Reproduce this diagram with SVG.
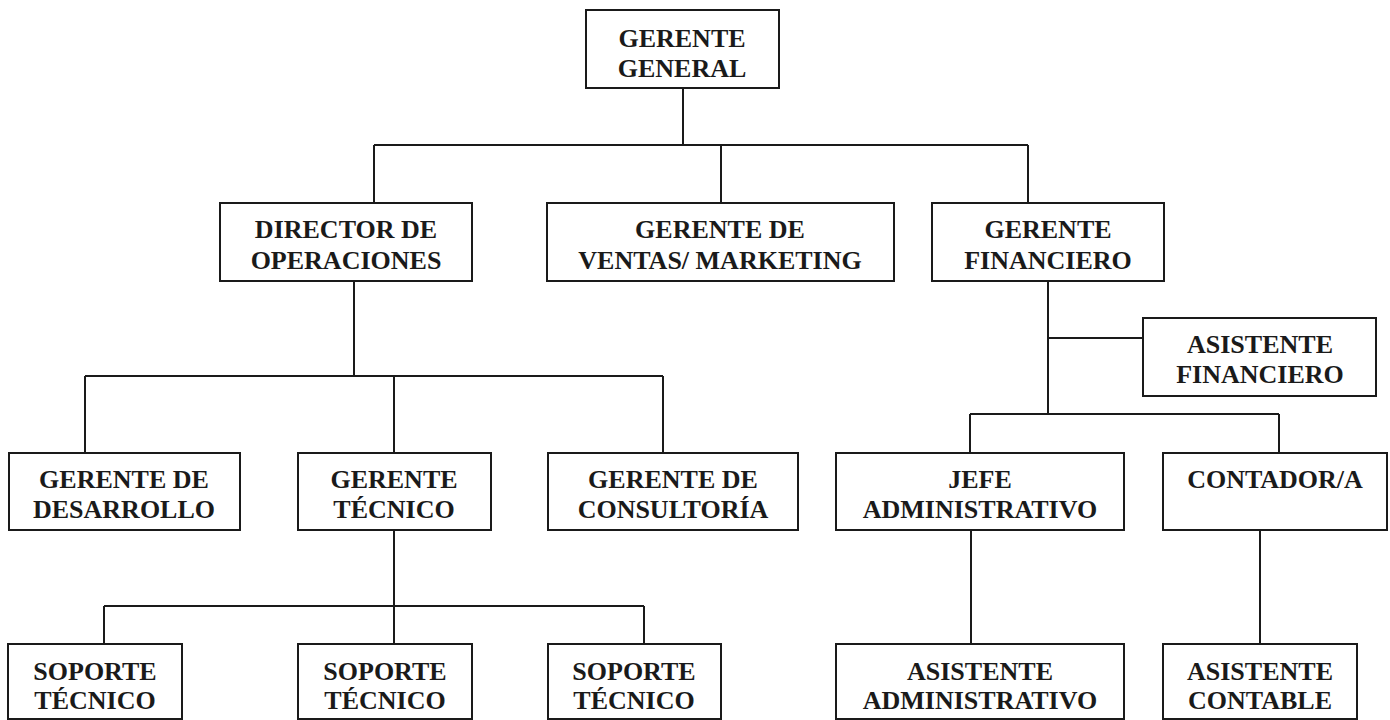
<svg xmlns="http://www.w3.org/2000/svg" width="1390" height="720" viewBox="0 0 1390 720">
<style>
rect.n{fill:#fff;stroke:#1a1a1a;stroke-width:2}
text{font-family:"Liberation Serif","Times New Roman",serif;font-weight:bold;font-size:26px;fill:#1a1a1a;text-anchor:middle}
.c line{stroke:#1a1a1a;stroke-width:2}
</style>
<rect width="1390" height="720" fill="#fff"/>
<g class="c" id="connectors">
<line x1="683" y1="88" x2="683" y2="145"/>
<line x1="374" y1="145" x2="1028" y2="145"/>
<line x1="374" y1="145" x2="374" y2="203"/>
<line x1="721" y1="145" x2="721" y2="203"/>
<line x1="1028" y1="145" x2="1028" y2="203"/>
<line x1="354" y1="281" x2="354" y2="376"/>
<line x1="85" y1="376" x2="663" y2="376"/>
<line x1="85" y1="376" x2="85" y2="453"/>
<line x1="394" y1="376" x2="394" y2="453"/>
<line x1="663" y1="376" x2="663" y2="453"/>
<line x1="394" y1="530" x2="394" y2="606"/>
<line x1="104" y1="606" x2="644" y2="606"/>
<line x1="104" y1="606" x2="104" y2="644"/>
<line x1="394" y1="606" x2="394" y2="644"/>
<line x1="644" y1="606" x2="644" y2="644"/>
<line x1="1048" y1="281" x2="1048" y2="414"/>
<line x1="1048" y1="338" x2="1143" y2="338"/>
<line x1="970" y1="414" x2="1279" y2="414"/>
<line x1="970" y1="414" x2="970" y2="453"/>
<line x1="1279" y1="414" x2="1279" y2="453"/>
<line x1="971" y1="530" x2="971" y2="644"/>
<line x1="1260" y1="530" x2="1260" y2="644"/>
</g>
<g id="gerente-general"><rect class="n" x="586" y="10" width="193" height="78"/><text x="682" y="47">GERENTE</text><text x="682" y="77">GENERAL</text></g>
<g id="director-operaciones"><rect class="n" x="220" y="203" width="252" height="78"/><text x="346" y="238">DIRECTOR DE</text><text x="346" y="269">OPERACIONES</text></g>
<g id="gerente-ventas"><rect class="n" x="547" y="203" width="347" height="78"/><text x="720" y="238">GERENTE DE</text><text x="720" y="269">VENTAS/ MARKETING</text></g>
<g id="gerente-financiero"><rect class="n" x="932" y="203" width="232" height="78"/><text x="1048" y="238">GERENTE</text><text x="1048" y="269">FINANCIERO</text></g>
<g id="asistente-financiero"><rect class="n" x="1143" y="318" width="233" height="78"/><text x="1260" y="353">ASISTENTE</text><text x="1260" y="383">FINANCIERO</text></g>
<g id="gerente-desarrollo"><rect class="n" x="9" y="453" width="231" height="77"/><text x="124" y="488">GERENTE DE</text><text x="124" y="518">DESARROLLO</text></g>
<g id="gerente-tecnico"><rect class="n" x="298" y="453" width="193" height="77"/><text x="394" y="488">GERENTE</text><text x="394" y="518">TÉCNICO</text></g>
<g id="gerente-consultoria"><rect class="n" x="548" y="453" width="250" height="77"/><text x="673" y="488">GERENTE DE</text><text x="673" y="518">CONSULTORÍA</text></g>
<g id="jefe-administrativo"><rect class="n" x="836" y="453" width="288" height="77"/><text x="980" y="488">JEFE</text><text x="980" y="518">ADMINISTRATIVO</text></g>
<g id="contador"><rect class="n" x="1163" y="453" width="224" height="77"/><text x="1275" y="488">CONTADOR/A</text></g>
<g id="soporte-1"><rect class="n" x="8" y="644" width="174" height="75"/><text x="95" y="680">SOPORTE</text><text x="95" y="709">TÉCNICO</text></g>
<g id="soporte-2"><rect class="n" x="298" y="644" width="174" height="75"/><text x="385" y="680">SOPORTE</text><text x="385" y="709">TÉCNICO</text></g>
<g id="soporte-3"><rect class="n" x="548" y="644" width="173" height="75"/><text x="634" y="680">SOPORTE</text><text x="634" y="709">TÉCNICO</text></g>
<g id="asistente-administrativo"><rect class="n" x="836" y="644" width="288" height="75"/><text x="980" y="680">ASISTENTE</text><text x="980" y="709">ADMINISTRATIVO</text></g>
<g id="asistente-contable"><rect class="n" x="1163" y="644" width="194" height="75"/><text x="1260" y="680">ASISTENTE</text><text x="1260" y="709">CONTABLE</text></g>
</svg>
